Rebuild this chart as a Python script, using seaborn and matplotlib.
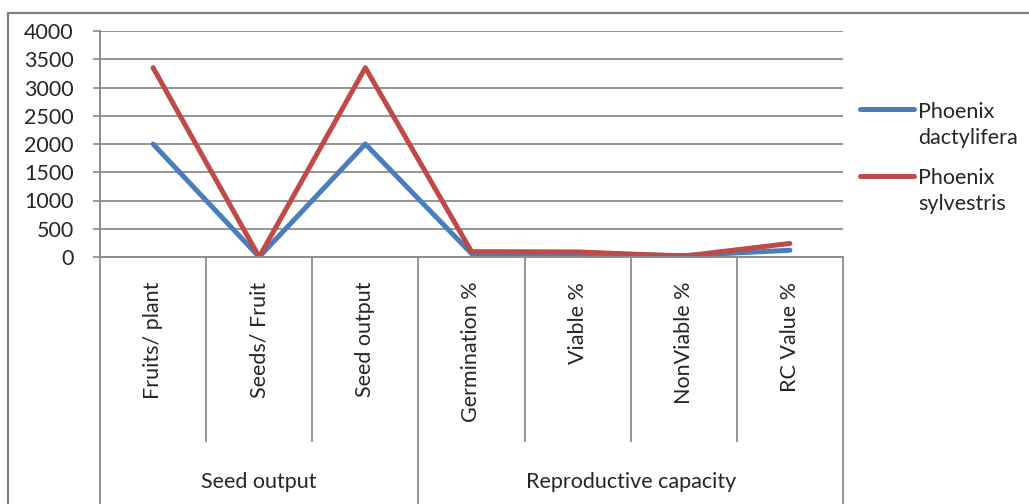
import numpy as np
import pandas as pd
import seaborn as sns
import matplotlib.pyplot as plt
from matplotlib.lines import Line2D
from matplotlib.patches import Rectangle

# Chart data
categories = ["Fruits/ plant", "Seeds/ Fruit", "Seed output", "Germination %",
              "Viable %", "NonViable %", "RC Value %"]
groups = ["Seed output", "Reproductive capacity"]
group_sizes = [3, 4]
dactylifera = [2000, 1, 2000, 60, 55, 25, 120]
sylvestris = [3350, 1, 3350, 95, 90, 15, 240]
series_names = ["Phoenix\ndactylifera", "Phoenix\nsylvestris"]
colors = ["#4A7EBB", "#BE4B48"]
y_ticks = list(range(0, 4001, 500))

sns.set_theme(style="white")
plt.rcParams["font.family"] = ["Lato", "DejaVu Sans"]
FS = 15.5

df = pd.DataFrame({
    "pos": list(range(len(categories))) * 2,
    "value": dactylifera + sylvestris,
    "series": [series_names[0]] * len(categories) + [series_names[1]] * len(categories),
})

W, H = 1029, 504
fig = plt.figure(figsize=(W / 100, H / 100), dpi=100)
ax = fig.add_axes([100 / W, 1 - 257 / H, (843 - 100) / W, (257 - 31) / H])

sns.lineplot(data=df, x="pos", y="value", hue="series", palette=colors,
             linewidth=3.6, legend=False, ax=ax)

grid_col = "#8c8c8c"
ax.set_xlim(-0.5, len(categories) - 0.5)
ax.set_ylim(0, 4000)
ax.set_yticks(y_ticks)
ax.set_yticklabels([str(t) for t in y_ticks], fontsize=FS)
ax.set_xticks([])
ax.set_xlabel("")
ax.set_ylabel("")
ax.yaxis.grid(True, color=grid_col, linewidth=1.3)
ax.set_axisbelow(True)
ax.tick_params(axis="y", length=5, width=1.2, color=grid_col, pad=14, left=True)
for side in ["top", "right"]:
    ax.spines[side].set_visible(False)
for side in ["left", "bottom"]:
    ax.spines[side].set_color(grid_col)
    ax.spines[side].set_linewidth(1.4)

# multi-level category axis below the plot
xtr = ax.get_xaxis_transform()
n = len(categories)
bounds = np.cumsum([0] + group_sizes) - 0.5
inner = [i + 0.5 for i in range(n - 1) if (i + 0.5) not in bounds]
ax.vlines(inner, -0.82, 0, transform=xtr, colors=grid_col, linewidth=1.3, clip_on=False)
ax.vlines(bounds, -1.2, 0, transform=xtr, colors=grid_col, linewidth=1.3, clip_on=False)
for i, lab in enumerate(categories):
    ax.text(i, -0.11, lab, transform=xtr, rotation=90, ha="center", va="top",
            fontsize=FS)
for g, lab in enumerate(groups):
    mid = (bounds[g] + bounds[g + 1]) / 2
    ax.text(mid, -0.995, lab, transform=xtr, ha="center", va="center", fontsize=FS)

# legend on the right
for k, name in enumerate(series_names):
    y = 1 - (109 + 67 * k) / H
    fig.add_artist(Line2D([860 / W, 914 / W], [y, y], color=colors[k],
                          linewidth=3.6, transform=fig.transFigure))
    fig.text(918 / W, 1 - (102 + 66 * k) / H, name, fontsize=FS, va="top",
             ha="left", linespacing=1.4)

# chart frame
fig.add_artist(Rectangle((8 / W, -0.1), 1.2, 1 - 13 / H + 0.1, fill=False,
                         edgecolor="#7f7f7f", linewidth=1.6,
                         transform=fig.transFigure))

fig.savefig("out.png", dpi=100)
